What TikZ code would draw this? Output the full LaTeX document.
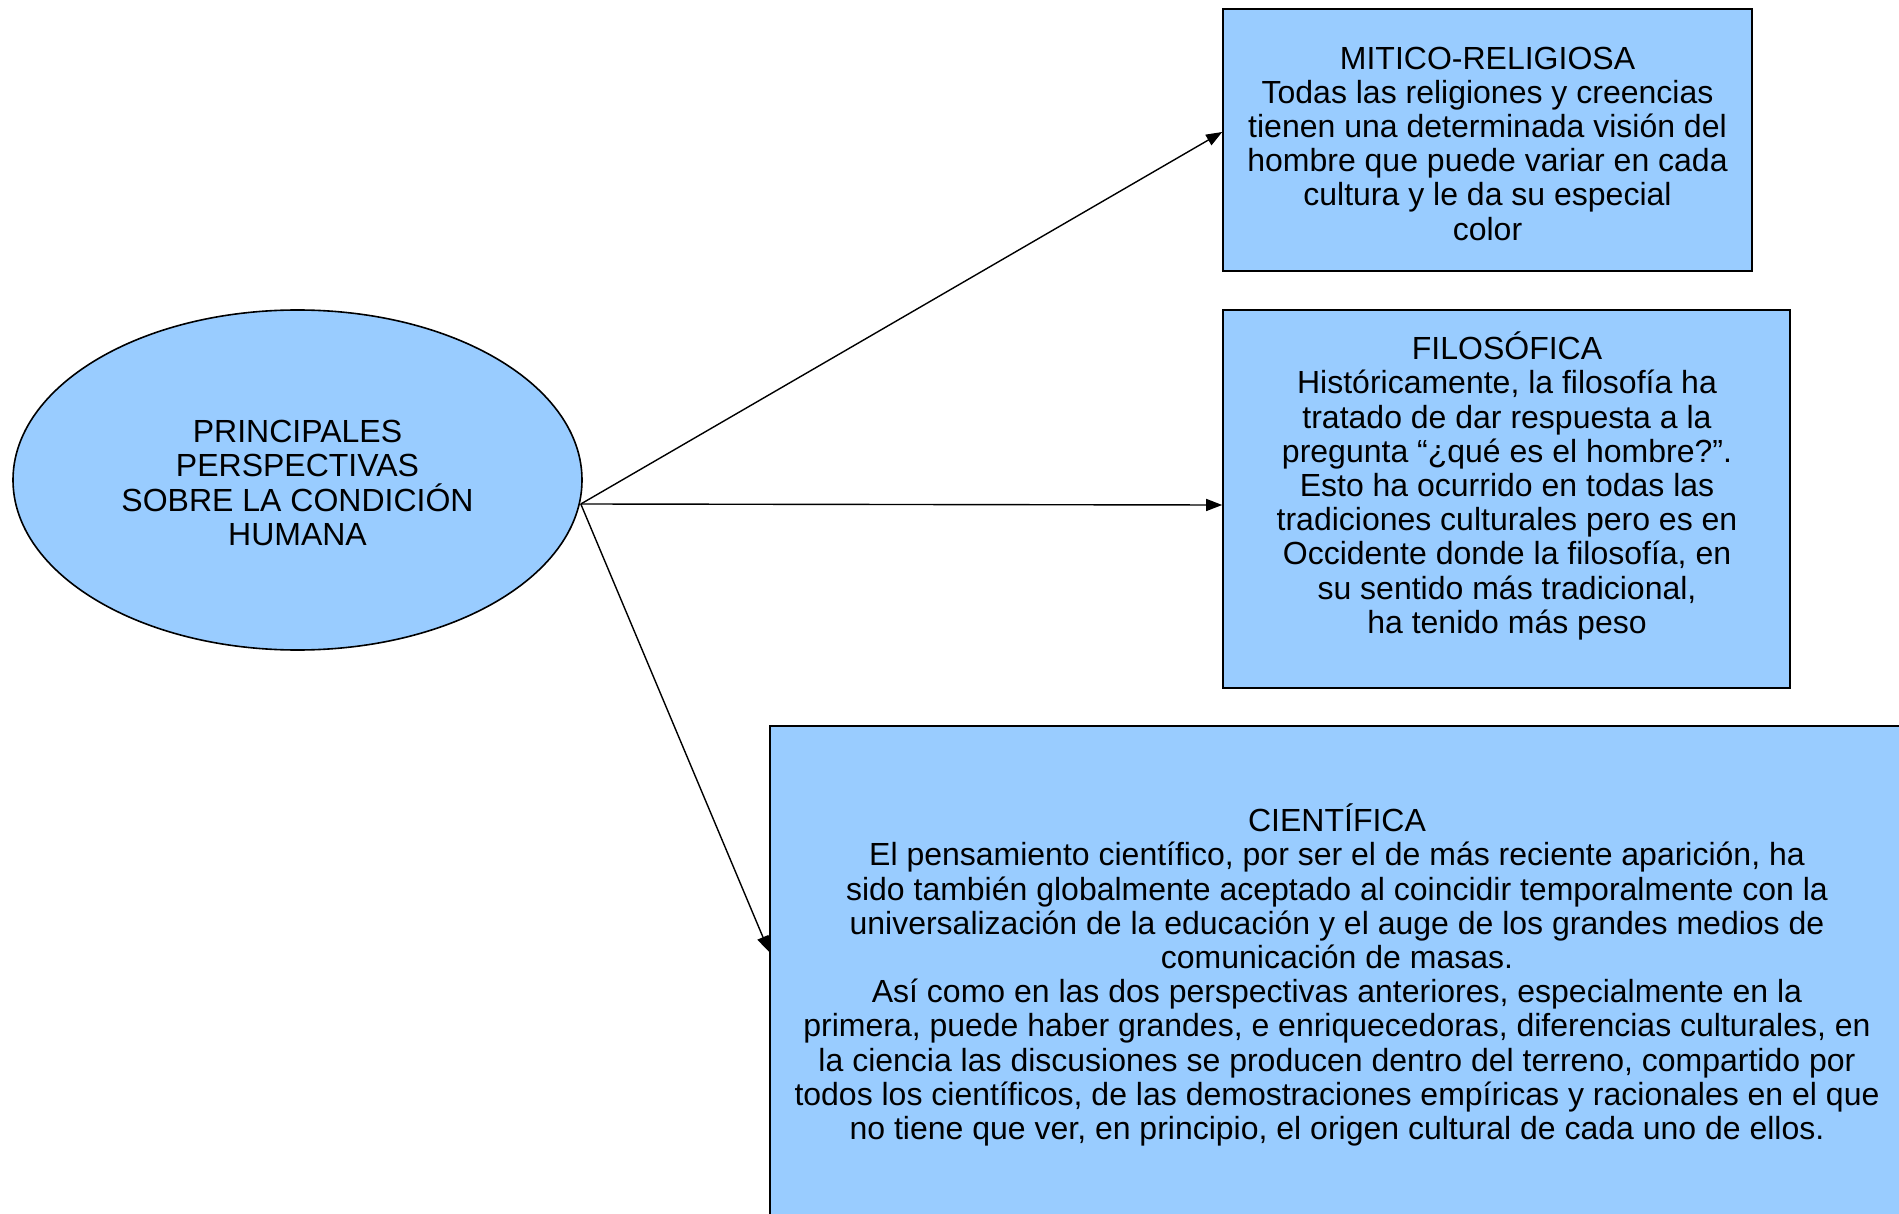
\documentclass[tikz,border=0pt]{standalone}
\usepackage{fontspec}
\setmainfont{Liberation Sans}
\usetikzlibrary{shapes.geometric,arrows.meta,calc}
\definecolor{boxblue}{RGB}{153,204,255}
\begin{document}
\begin{tikzpicture}[x=1pt,y=-1pt,
  shapebox/.style={draw=black,line width=1.6pt,fill=boxblue,rectangle,inner sep=0pt},
  shapeell/.style={draw=black,line width=1.6pt,fill=boxblue,ellipse,inner sep=0pt},
  txt/.style={align=center,inner sep=0pt,font=\fontsize{32pt}{34.2pt}\selectfont},
  conn/.style={line width=1.4pt,-{Triangle[length=16pt,width=12pt]}}]
\useasboundingbox (0,0) rectangle (1899,1214);
\clip (0,0) rectangle (1899,1214);
\fill[white] (0,0) rectangle (1899,1214);
% shapes
\node[shapeell,minimum width=569pt,minimum height=340pt] (ell) at (297.5,480) {};
\node[shapebox,minimum width=529pt,minimum height=262.5pt] (box1) at (1487.5,140) {};
\node[shapebox,minimum width=567pt,minimum height=378pt] (box2) at (1506.5,499) {};
\node[shapebox,minimum width=1134pt,minimum height=502pt] (box3) at (1337,977) {};
% texts
\node[txt] (elltxt) at (297.5,483) {PRINCIPALES\\PERSPECTIVAS\\SOBRE LA CONDICIÓN\\HUMANA};
\node[txt] (box1txt) at (1487.5,143.5) {MITICO-RELIGIOSA\\Todas las religiones y creencias\\tienen una determinada visión del\\hombre que puede variar en cada\\cultura y le da su especial\\color};
\node[txt] (box2txt) at (1507,486) {FILOSÓFICA\\Históricamente, la filosofía ha\\tratado de dar respuesta a la\\pregunta “¿qué es el hombre?”.\\Esto ha ocurrido en todas las\\tradiciones culturales pero es en\\Occidente donde la filosofía, en\\su sentido más tradicional,\\ha tenido más peso};
\node[txt] (box3txt) at (1337,975) {CIENTÍFICA\\El pensamiento científico, por ser el de más reciente aparición, ha\\sido también globalmente aceptado al coincidir temporalmente con la\\universalización de la educación y el auge de los grandes medios de\\comunicación de masas.\\Así como en las dos perspectivas anteriores, especialmente en la\\primera, puede haber grandes, e enriquecedoras, diferencias culturales, en\\la ciencia las discusiones se producen dentro del terreno, compartido por\\todos los científicos, de las demostraciones empíricas y racionales en el que\\no tiene que ver, en principio, el origen cultural de cada uno de ellos.};
% connectors
\coordinate (src) at ($(ell.east)+(-2,24)$);
\draw[conn] (src) -- ($(box1.west)+(0,-8)$);
\draw[conn] (src) -- ($(box2.west)+(0,6)$);
\draw[conn] (src) -- ($(box3.west)+(0,-25)$);
\end{tikzpicture}
\end{document}
